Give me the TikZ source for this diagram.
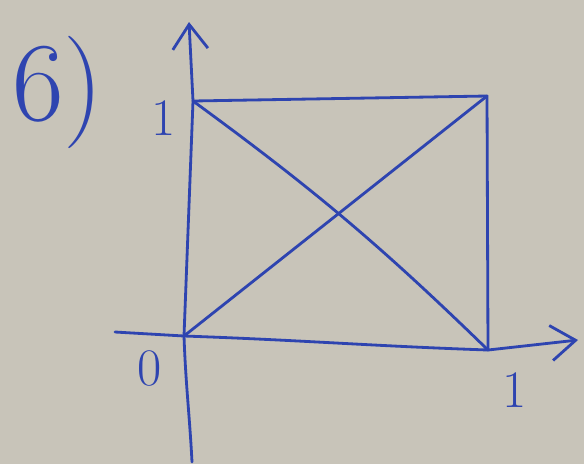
\documentclass[tikz,border=0pt]{standalone}
\usepackage{xcolor}
\usepackage{tikz}
\usetikzlibrary{positioning, arrows.meta}
\definecolor{BoardGrey}{RGB}{200,196,185}
\definecolor{PenBlue}{RGB}{46,68,176}

\begin{document}
\begin{tikzpicture}[x=0.02cm, y=-0.02cm,
          pen/.style={draw=PenBlue, line width=1.6pt, line cap=round, line join=round},
          axis/.style={pen, -{Straight Barb[length=14pt, width=20pt, line width=1.6pt]}},
          lbl/.style={text=PenBlue, inner sep=0pt, font=\fontsize{30}{30}\selectfont}
        ]
        % board
        \fill[BoardGrey] (0,0) rectangle (584,464);
        \useasboundingbox (0,0) rectangle (584,464);

        % corners of the square
        \coordinate (o)  at (184,336);
        \coordinate (tl) at (193,101);
        \coordinate (tr) at (487,96);
        \coordinate (br) at (488,350);

        % axis ends
        \coordinate (xs) at (115,332);
        \coordinate (xe) at (578,340);
        \coordinate (ys) at (192,462);
        \coordinate (ye) at (189,22);

        % axes
        \draw[axis] (xs) -- (o) to[out=-2, in=178] (br) -- (xe);
        \draw[axis] (ys) to[out=93, in=-88] (o) -- (tl) -- (ye);

        % square
        \draw[pen] (tl) -- (tr) -- (br);
        % diagonals
        \draw[pen] (tl) to[bend left=4] (br);
        \draw[pen] (o) -- (tr);

        % labels
        \node[lbl, font=\fontsize{64}{64}\selectfont] (task) at (58,92) {6)};
        \node[lbl] (one y) at (164,118) {1};
        \node[lbl] (zero)  at (150,368) {0};
        \node[lbl] (one x) at (515,390) {1};
      \end{tikzpicture}
\end{document}
